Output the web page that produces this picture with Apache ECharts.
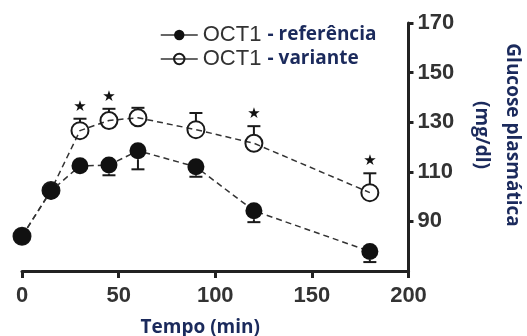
<!DOCTYPE html>
<html><head><meta charset="utf-8">
<script src="https://cdn.jsdelivr.net/npm/echarts@6/dist/echarts.min.js"></script>
<style>html,body{margin:0;padding:0;background:#fff}#c{width:527px;height:336px}</style>
</head><body><div id="c"></div>
<script>
// time points (min)
const times = [0, 15, 30, 45, 60, 90, 120, 180];
// OCT1 - referência (filled) mean and lower error end
const refMean = [84, 102.3, 112.4, 112.7, 118.5, 112, 94.3, 77.9];
const refErrLow = [84, 100, 109.3, 108.6, 111, 108, 89.7, 73.6];
// OCT1 - variante (open) mean and upper error end
const varMean = [84, 102.5, 126.6, 130.7, 131.8, 127, 121.5, 101.6];
const varErrHigh = [84, 102.5, 131.4, 135.4, 135.8, 133.7, 128.4, 109.4];
// time points marked significant
const sigTimes = [30, 45, 120, 180];
// axis ticks
const yTickValues = [90, 110, 130, 150, 170];
const xTickValues = [0, 50, 100, 150, 200];

const refName = 'OCT1 - referência';
const varName = 'OCT1 - variante';
const R = 8.5;

function errRender(params, api) {
  const x = api.value(0), m = api.value(1), e = api.value(2), s = api.value(3);
  const pm = api.coord([x, m]), pe = api.coord([x, e]);
  const children = [];
  const d = pe[1] - pm[1];
  const dir = d > 0 ? 1 : -1;
  if (Math.abs(d) > R) {
    children.push({type: 'line', shape: {x1: pm[0], y1: pm[1] + dir * R, x2: pe[0], y2: pe[1]},
      style: {stroke: '#1a1a1a', lineWidth: 2}});
    children.push({type: 'line', shape: {x1: pe[0] - 6.5, y1: pe[1], x2: pe[0] + 6.5, y2: pe[1]},
      style: {stroke: '#1a1a1a', lineWidth: 2}});
  }
  if (s) {
    children.push({type: 'text', style: {text: '★', x: pe[0], y: pe[1] - 12, align: 'center', verticalAlign: 'middle',
      fill: '#111', fontSize: 15, fontFamily: 'DejaVu Sans'}});
  }
  return {type: 'group', children};
}

const chart = echarts.init(document.getElementById('c'), null, {renderer: 'canvas'});
chart.setOption({
  animation: false,
  backgroundColor: '#fff',
  grid: {left: 22, right: 118.5, top: 23, bottom: 65, containLabel: false, outerBoundsMode: 'none'},
  legend: {
    orient: 'vertical', left: 155, top: 19, itemWidth: 37, itemHeight: 13, itemGap: 2,
    data: [refName, varName],
    lineStyle: {type: 'solid', width: 1.5},
    formatter: function (n) {
      const parts = n.split(' - ');
      return '{a|' + parts[0] + ' }{b|- ' + parts[1] + '}';
    },
    textStyle: {
      rich: {
        a: {fontFamily: 'Liberation Sans', fontSize: 22, color: '#333', lineHeight: 22},
        b: {fontFamily: 'Open Sans', fontWeight: 'bold', fontSize: 19, color: '#1b2a5c', lineHeight: 22}
      }
    }
  },
  xAxis: {
    type: 'value', min: 0, max: 200, interval: 50,
    axisLine: {show: true, onZero: false, lineStyle: {color: '#222', width: 3}},
    axisTick: {show: true, length: 7, lineStyle: {color: '#222', width: 3}},
    axisLabel: {margin: 14, fontFamily: 'Liberation Sans', fontWeight: 'bold', fontSize: 22, color: '#333',
      customValues: xTickValues},
    splitLine: {show: false},
    name: 'Tempo (min)', nameLocation: 'middle', nameGap: 47,
    nameTextStyle: {fontFamily: 'Open Sans', fontWeight: 'bold', fontSize: 19, color: '#1b2a5c', padding: [0, 30, 0, 0]}
  },
  yAxis: {
    type: 'value', position: 'right', min: 70, max: 170,
    axisLine: {show: true, onZero: false, lineStyle: {color: '#222', width: 3}},
    axisTick: {show: true, length: 5, inside: false, lineStyle: {color: '#222', width: 3}, customValues: yTickValues},
    axisLabel: {margin: 9, fontFamily: 'Liberation Sans', fontWeight: 'bold', fontSize: 22, color: '#333', customValues: yTickValues},
    splitLine: {show: false}
  },
  graphic: [{
    type: 'text', x: 497, y: 135, rotation: -Math.PI / 2,
    style: {text: 'Glucose plasmática\n(mg/dl)', x: 0, y: 0, align: 'center', verticalAlign: 'middle',
      font: 'bold 19px "Open Sans"', fill: '#1b2a5c', lineHeight: 31}
  }],
  series: [
    {
      name: varName, type: 'line', z: 3,
      data: times.map((t, i) => [t, varMean[i]]),
      symbol: 'circle', symbolSize: 17,
      itemStyle: {color: 'rgba(255,255,255,0)', borderColor: '#1a1a1a', borderWidth: 2},
      lineStyle: {color: '#333', width: 1.5, type: [6, 4]}
    },
    {
      name: refName, type: 'line', z: 5,
      data: times.map((t, i) => [t, refMean[i]]),
      symbol: 'circle', symbolSize: 17,
      itemStyle: {color: '#111', borderColor: '#111', borderWidth: 0},
      lineStyle: {color: '#333', width: 1.5, type: [6, 4]}
    },
    {
      type: 'custom', z: 4, renderItem: errRender, silent: true,
      data: times.map((t, i) => [t, varMean[i], varErrHigh[i], sigTimes.includes(t) ? 1 : 0])
    },
    {
      type: 'custom', z: 4, renderItem: errRender, silent: true,
      data: times.map((t, i) => [t, refMean[i], refErrLow[i], 0])
    }
  ]
});
</script></body></html>
